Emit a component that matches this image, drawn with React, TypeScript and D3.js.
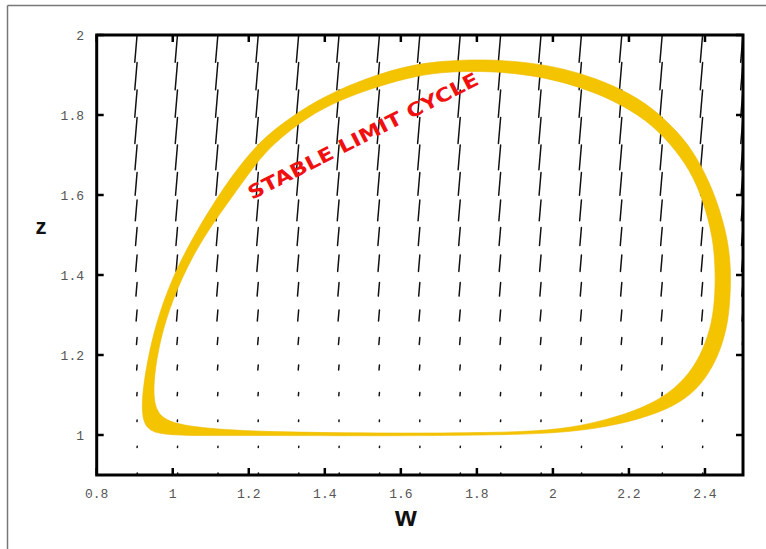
import * as d3 from 'd3';

// axis ticks
const xTicks = [0.8, 1, 1.2, 1.4, 1.6, 1.8, 2, 2.2, 2.4];
const yTicks = [1, 1.2, 1.4, 1.6, 1.8, 2];

// vector field sample grid (17 x 17 over the plot range)
const gridW = [0.8, 0.90625, 1.0125, 1.11875, 1.225, 1.33125, 1.4375, 1.54375, 1.65, 1.75625, 1.8625, 1.96875, 2.075, 2.18125, 2.2875, 2.39375, 2.5];
const gridZ = [0.9, 0.96875, 1.0375, 1.10625, 1.175, 1.24375, 1.3125, 1.38125, 1.45, 1.51875, 1.5875, 1.65625, 1.725, 1.79375, 1.8625, 1.93125, 2.0];
// dz of each row's vector (dw follows the slight lean)
const rowDz = [0.005, 0.003, -0.004, -0.008, -0.0125, -0.0175, -0.0275, -0.034, -0.041, -0.045, -0.052, -0.057, -0.062, -0.065, -0.068, -0.068, -0.068];
const lean = 0.09; // dw / dz

// limit cycle band: outer and inner edges of the trajectory envelope
const outerW = [1.23, 1.598, 1.861, 2.019, 2.142, 2.237, 2.316, 2.379, 2.421, 2.447, 2.463, 2.468, 2.466, 2.458, 2.439, 2.413, 2.368, 2.316, 2.247, 2.158, 2.071, 1.984, 1.895, 1.808, 1.703, 1.616, 1.527, 1.44, 1.353, 1.264, 1.209, 1.137, 1.051, 0.996, 0.956, 0.932, 0.919, 0.92, 0.935, 0.97, 1.064];
const outerZ = [0.999, 0.9975, 1.0, 1.005, 1.02, 1.0425, 1.07, 1.1125, 1.17, 1.23, 1.295, 1.38, 1.4375, 1.495, 1.5625, 1.63, 1.7125, 1.77, 1.83, 1.875, 1.905, 1.925, 1.935, 1.939, 1.935, 1.9225, 1.8975, 1.865, 1.8225, 1.7625, 1.7125, 1.625, 1.4925, 1.3875, 1.28, 1.18, 1.095, 1.04, 1.013, 1.001, 0.998];
const innerW = [1.23, 1.598, 1.861, 2.019, 2.142, 2.237, 2.308, 2.361, 2.395, 2.419, 2.427, 2.427, 2.421, 2.395, 2.361, 2.308, 2.247, 2.158, 2.071, 1.984, 1.895, 1.808, 1.703, 1.616, 1.527, 1.44, 1.353, 1.264, 1.216, 1.156, 1.08, 1.024, 0.98, 0.956, 0.948, 0.956, 0.985, 1.064];
const innerZ = [1.0075, 1.004, 1.006, 1.0125, 1.0375, 1.0675, 1.105, 1.155, 1.2125, 1.28, 1.355, 1.42, 1.495, 1.5875, 1.6625, 1.73, 1.7875, 1.8375, 1.87, 1.8925, 1.905, 1.91, 1.9075, 1.8925, 1.8675, 1.8375, 1.795, 1.728, 1.675, 1.595, 1.495, 1.395, 1.2875, 1.1875, 1.105, 1.06, 1.033, 1.018];

const W = 766;
const H = 549;

export default function App() {
  const x = d3.scaleLinear().domain([0.8, 2.5]).range([96.7, 743]);
  const y = d3.scaleLinear().domain([0.9, 2]).range([475, 35]);

  const line = d3
    .line<[number, number]>()
    .x((d) => x(d[0]))
    .y((d) => y(d[1]))
    .curve(d3.curveBasisClosed);

  const outer = outerW.map((w, i) => [w, outerZ[i]] as [number, number]);
  const inner = innerW.map((w, i) => [w, innerZ[i]] as [number, number]);
  const band = (line(outer) ?? '') + (line(inner) ?? '');

  const vectors: { x1: number; y1: number; x2: number; y2: number }[] = [];
  gridZ.forEach((z, r) => {
    const dz = rowDz[r];
    gridW.forEach((w) => {
      vectors.push({ x1: x(w), y1: y(z), x2: x(w + dz * lean), y2: y(z + dz) });
    });
  });

  const [x0, x1] = x.range();
  const [y0, y1] = [y(2), y(0.9)];

  return (
    <svg width={W} height={H} style={{ position: 'absolute', left: 0, top: 0, background: '#fff' }}>
      <defs>
        <clipPath id='plot'>
          <rect x={x0} y={y0} width={x1 - x0} height={y1 - y0} />
        </clipPath>
      </defs>
      <line x1={7.5} y1={5.5} x2={W} y2={5.5} stroke='#777' strokeWidth={1.5} />
      <line x1={7.5} y1={5.5} x2={7.5} y2={H} stroke='#777' strokeWidth={1.5} />

      <g clipPath='url(#plot)'>
        {vectors.map((v, i) => (
          <line key={i} x1={v.x1} y1={v.y1} x2={v.x2} y2={v.y2} stroke='#111' strokeWidth={1.5} strokeLinecap='round' />
        ))}
      </g>

      <path d={band} fill='#F5C400' fillRule='evenodd' stroke='#EDBB00' strokeWidth={0.6} />

      <text
        transform={`translate(366,142) rotate(-27)`}
        textAnchor='middle'
        fontFamily='DejaVu Sans, Liberation Sans, sans-serif'
        fontWeight='bold'
        fontSize={19}
        fill='#F01010'
        textLength={256}
        lengthAdjust='spacingAndGlyphs'
      >
        STABLE LIMIT CYCLE
      </text>

      <rect x={x0} y={y0} width={x1 - x0} height={y1 - y0} fill='none' stroke='#000' strokeWidth={3} />

      {xTicks.map((t) => (
        <g key={'x' + t}>
          <line x1={x(t)} x2={x(t)} y1={y1} y2={y1 - 7} stroke='#000' strokeWidth={2.5} />
          <line x1={x(t)} x2={x(t)} y1={y0} y2={y0 + 7} stroke='#000' strokeWidth={2.5} />
          <text x={x(t)} y={498} textAnchor='middle' fontFamily='Liberation Mono, monospace' fontSize={13} fill='#555'>
            {t}
          </text>
        </g>
      ))}
      {yTicks.map((t) => (
        <g key={'y' + t}>
          <line x1={x0} x2={x0 + 7} y1={y(t)} y2={y(t)} stroke='#000' strokeWidth={2.5} />
          <line x1={x1} x2={x1 - 7} y1={y(t)} y2={y(t)} stroke='#000' strokeWidth={2.5} />
          <text x={84} y={y(t) + 4.5} textAnchor='end' fontFamily='Liberation Mono, monospace' fontSize={13} fill='#555'>
            {t}
          </text>
        </g>
      ))}

      <text x={406} y={526} textAnchor='middle' fontFamily='Liberation Sans, Arial, sans-serif' fontWeight='bold' fontSize={28} fill='#111'>
        w
      </text>
      <text x={41} y={234} textAnchor='middle' fontFamily='Liberation Sans, Arial, sans-serif' fontWeight='bold' fontSize={22} fill='#111'>
        z
      </text>
    </svg>
  );
}
